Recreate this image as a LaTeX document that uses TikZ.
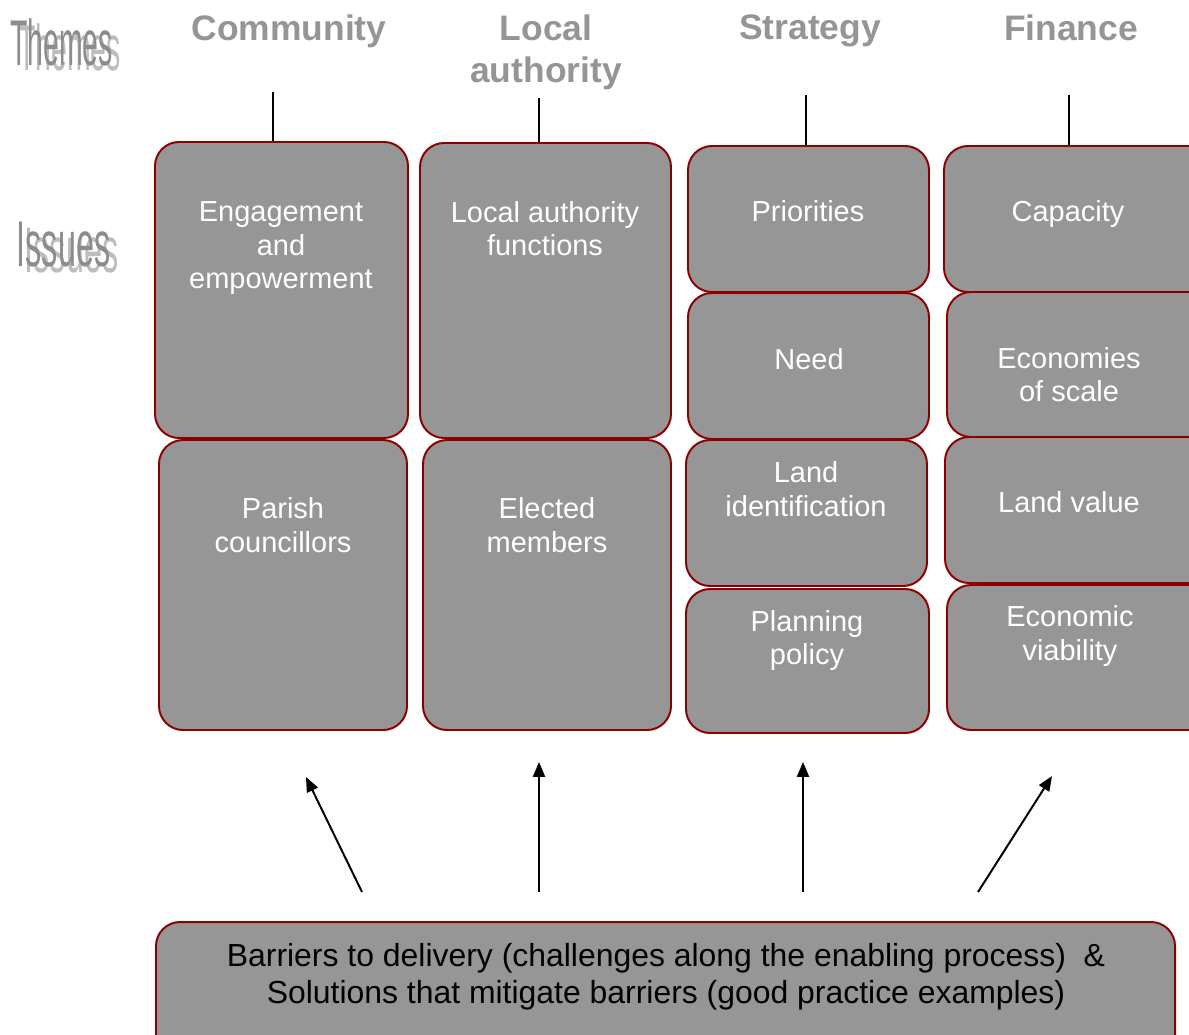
\documentclass[tikz,border=0pt]{standalone}
\usepackage{fontspec}
\setmainfont{Liberation Sans}
\usetikzlibrary{arrows.meta,fit}
\definecolor{boxgray}{HTML}{969696}
\definecolor{boxred}{HTML}{8E0000}
\definecolor{headgray}{HTML}{959595}
\definecolor{shadegray}{HTML}{BDBDBD}
\definecolor{sidegray}{HTML}{8C8C8C}

\begin{document}
\begin{tikzpicture}[x=0.025cm,y=-0.025cm,
  issue/.style={draw=boxred,fill=boxgray,line width=1.4pt,rounded corners=0.6cm,inner sep=0pt},
  issuetext/.style={text=white,align=center,inner sep=0pt,font=\fontsize{20.6}{23.8}\selectfont},
  theme/.style={text=headgray,align=center,inner sep=0pt,font=\bfseries\fontsize{25.2}{29.9}\selectfont},
  sidelabel/.style={inner sep=0pt,font=\fontsize{46}{46}\selectfont},
  stem/.style={line width=1.4pt},
  push/.style={line width=1.4pt,-{Triangle[length=10.5pt,width=8.5pt]}}]
\clip (0,0) rectangle (1189,1034);
\useasboundingbox (0,0) rectangle (1189,1034);

% side labels (with their light shadow)
\node[sidelabel] (themes) at (61.5,44.5)
  {\scalebox{0.44}[1]{\rlap{\kern12.9pt\raisebox{-3.6pt}{\color{shadegray}Themes}}\color{sidegray}Themes}};
\node[sidelabel] (issues) at (63.5,247.5)
  {\scalebox{0.5}[1]{\rlap{\kern11.4pt\raisebox{-4.3pt}{\color{shadegray}Issues}}\color{sidegray}Issues}};

% themes
\node[theme] (community) at (289,31) {Community};
\node[theme] (local) at (546,52) {Local\\authority};
\node[theme] (strategy) at (810,31) {Strategy};
\node[theme] (finance) at (1071,28) {Finance};

% community
\node[issue,fit={(155,142) (408,438)}] (engage) {};
\node[issuetext] (engageT) at (281,248.5) {Engagement\\and\\empowerment};
\node[issue,fit={(159,440) (407,730)}] (parish) {};
\node[issuetext] (parishT) at (283,525) {Parish\\councillors};

% local authority
\node[issue,fit={(420,143) (671,438)}] (functions) {};
\node[issuetext] (functionsT) at (545,228.5) {Local authority\\functions};
\node[issue,fit={(423,440) (671,730)}] (elected) {};
\node[issuetext] (electedT) at (547,525) {Elected\\members};

% strategy
\node[issue,fit={(688,146) (929,292)}] (priorities) {};
\node[issuetext] (prioritiesT) at (808,211) {Priorities};
\node[issue,fit={(688,293) (929,439)}] (need) {};
\node[issuetext] (needT) at (809,359) {Need};
\node[issue,fit={(686,440) (927,586)}] (landid) {};
\node[issuetext] (landidT) at (806,489) {Land\\identification};
\node[issue,fit={(686,589) (929,733)}] (planning) {};
\node[issuetext] (planningT) at (807,640.5) {Planning\\policy};

% finance
\node[issue,fit={(944,146) (1215,292)}] (capacity) {};
\node[issuetext] (capacityT) at (1068,214) {Capacity};
\node[issue,fit={(947,292) (1215,437)}] (economies) {};
\node[issuetext] (economiesT) at (1069,374.5) {Economies\\of scale};
\node[issue,fit={(945,437) (1215,583)}] (landvalue) {};
\node[issuetext] (landvalueT) at (1069,502) {Land value};
\node[issue,fit={(947,585) (1215,730)}] (viability) {};
\node[issuetext] (viabilityT) at (1070,636) {Economic\\viability};

% stems
\coordinate (s1) at (273,92);
\coordinate (s2) at (539,98);
\coordinate (s3) at (806,95);
\coordinate (s4) at (1069,95);
\draw[stem] (s1) -- (s1 |- engage.north);
\draw[stem] (s2) -- (s2 |- functions.north);
\draw[stem] (s3) -- (s3 |- priorities.north);
\draw[stem] (s4) -- (s4 |- capacity.north);

% barriers
\node[issue,fit={(156,922) (1175,1070)}] (barriers) {};
\node[issuetext,text=black,font=\fontsize{22.7}{26.3}\selectfont] (barriersT) at (666,976.5)
  {Barriers to delivery (challenges along the enabling process)\ \ \&\\Solutions that mitigate barriers (good practice examples)};

% arrows
\coordinate (t1) at (362,892); \coordinate (h1) at (306,777);
\coordinate (t2) at (539,892); \coordinate (h2) at (539,762);
\coordinate (t3) at (803,892); \coordinate (h3) at (803,762);
\coordinate (t4) at (978,892); \coordinate (h4) at (1052,776);
\draw[push] (t1) -- (h1);
\draw[push] (t2) -- (h2);
\draw[push] (t3) -- (h3);
\draw[push] (t4) -- (h4);
\end{tikzpicture}
\end{document}
